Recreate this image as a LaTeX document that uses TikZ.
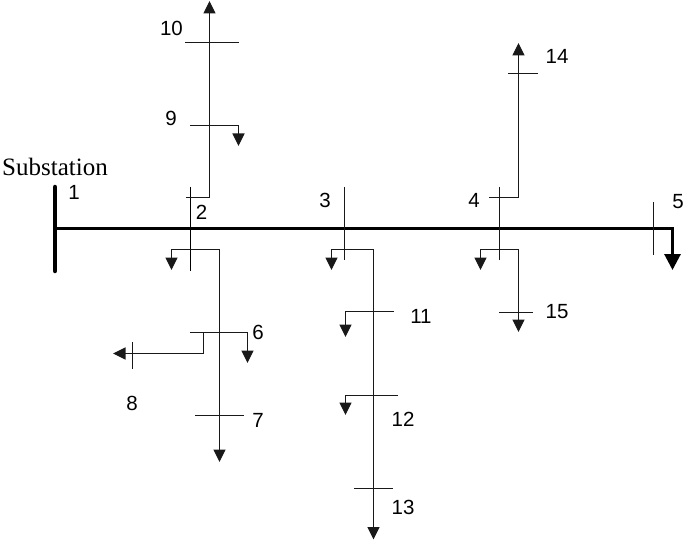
\documentclass[tikz,border=0pt]{standalone}
\usepackage{fontspec}
\setmainfont{Liberation Sans}
\newfontfamily\serifface{Liberation Serif}
\usetikzlibrary{arrows.meta}
\tikzset{
  busbar/.style={line width=1.1pt,black!90},
  feeder/.style={line width=1.2pt,black!90},
  tiparrow/.style={feeder,-{Triangle[length=12.5pt,width=12pt]}},
  mainline/.style={line width=3pt},
  mainarrow/.style={mainline,-{Triangle[length=16pt,width=16pt]}},
  busno/.style={inner sep=0pt,font=\fontsize{20.5}{20.5}\selectfont},
  sublabel/.style={inner sep=0pt,font=\serifface\fontsize{25}{25}\selectfont},
}
\begin{document}
\begin{tikzpicture}[x=1pt,y=-1pt]
\useasboundingbox (0,0) rectangle (685,540);
% --- labels
\node[sublabel] (lsub) at (55,167) {Substation};
\node[busno] (l1) at (74,192.5) {1};
\node[busno] (l2) at (201.5,212.5) {2};
\node[busno] (l3) at (325,200.5) {3};
\node[busno] (l4) at (474,200.5) {4};
\node[busno] (l5) at (678,201.5) {5};
\node[busno] (l6) at (258,332.5) {6};
\node[busno] (l7) at (258,420.5) {7};
\node[busno] (l8) at (132,403.5) {8};
\node[busno] (l9) at (171,118.5) {9};
\node[busno] (l10) at (171.5,28.5) {10};
\node[busno] (l11) at (421,316.5) {11};
\node[busno] (l12) at (403,419.5) {12};
\node[busno] (l13) at (403,507.5) {13};
\node[busno] (l14) at (557,56.5) {14};
\node[busno] (l15) at (557,311.5) {15};
% --- bus 1 and main feeder
\coordinate (b1a) at (55,187); \coordinate (b1b) at (55,271);
\coordinate (m0) at (55,228.5); \coordinate (m5) at (672.5,228.5); \coordinate (m5t) at (672.5,270);
\draw[line width=4.5pt,line cap=round] (b1a) -- (b1b);
\draw[mainarrow,line join=miter] (m0) -- (m5) -- (m5t);
% --- vertical buses on the main feeder
\coordinate (b2a) at (190.5,187); \coordinate (b2b) at (190.5,270.5);
\coordinate (b3a) at (344.5,187); \coordinate (b3b) at (344.5,260);
\coordinate (b4a) at (499.5,187); \coordinate (b4b) at (499.5,260);
\coordinate (b5a) at (653.5,202); \coordinate (b5b) at (653.5,255);
\draw[line width=1.6pt] (b2a) -- (b2b);
\draw[busbar] (b3a) -- (b3b);
\draw[busbar] (b4a) -- (b4b);
\draw[busbar] (b5a) -- (b5b);
% --- lateral 2-9-10
\coordinate (u2s) at (186,197.5); \coordinate (u2c) at (209.5,197.5); \coordinate (u2t) at (209.5,1);
\draw[tiparrow,line join=miter] (u2s) -- (u2c) -- (u2t);
\coordinate (b10a) at (185,42.5); \coordinate (b10b) at (239,42.5);
\draw[busbar] (b10a) -- (b10b);
\coordinate (b9a) at (190,125.5); \coordinate (b9c) at (238.5,125.5); \coordinate (b9t) at (238.5,146);
\draw[tiparrow] (b9a) -- (b9c) -- (b9t);
% --- lateral 2-6-7-8
\coordinate (d2c) at (219.5,249.5); \coordinate (d2l) at (171.5,249.5); \coordinate (d2lt) at (171.5,270);
\coordinate (d2t) at (219.5,462);
\draw[tiparrow] (d2c) -- (d2l) -- (d2lt);
\draw[tiparrow] (d2c) -- (d2t);
\coordinate (b6a) at (190,332.5); \coordinate (b6c) at (247.5,332.5); \coordinate (b6t) at (247.5,363);
\draw[tiparrow] (b6a) -- (b6c) -- (b6t);
\coordinate (b8s) at (203.5,332.5); \coordinate (b8c) at (203.5,353.5); \coordinate (b8t) at (113,353.5);
\draw[tiparrow] (b8s) -- (b8c) -- (b8t);
\coordinate (b8a) at (132.5,342); \coordinate (b8b) at (132.5,369);
\draw[busbar] (b8a) -- (b8b);
\coordinate (b7a) at (195,415.5); \coordinate (b7b) at (244,415.5);
\draw[busbar] (b7a) -- (b7b);
% --- lateral 3-11-12-13
\coordinate (d3c) at (373.5,249.5); \coordinate (d3l) at (331.5,249.5); \coordinate (d3lt) at (331.5,270);
\coordinate (d3t) at (373.5,539.5);
\draw[tiparrow] (d3c) -- (d3l) -- (d3lt);
\draw[tiparrow] (d3c) -- (d3t);
\coordinate (b11a) at (393.5,311.5); \coordinate (b11c) at (345.5,311.5); \coordinate (b11t) at (345.5,337);
\draw[tiparrow] (b11a) -- (b11c) -- (b11t);
\coordinate (b12a) at (398,395.5); \coordinate (b12c) at (345.5,395.5); \coordinate (b12t) at (345.5,415);
\draw[tiparrow] (b12a) -- (b12c) -- (b12t);
\coordinate (b13a) at (354,488.5); \coordinate (b13b) at (393,488.5);
\draw[busbar] (b13a) -- (b13b);
% --- lateral 4-14
\coordinate (u4s) at (489,197.5); \coordinate (u4c) at (518.5,197.5); \coordinate (u4t) at (518.5,43);
\draw[tiparrow,line join=miter] (u4s) -- (u4c) -- (u4t);
\coordinate (b14a) at (508,73.5); \coordinate (b14b) at (538,73.5);
\draw[busbar] (b14a) -- (b14b);
% --- lateral 4-15
\coordinate (d4c) at (518.5,249.5); \coordinate (d4l) at (480.5,249.5); \coordinate (d4lt) at (480.5,270);
\coordinate (d4t) at (518.5,332);
\draw[tiparrow] (d4c) -- (d4l) -- (d4lt);
\draw[tiparrow] (d4c) -- (d4t);
\coordinate (b15a) at (499,312.5); \coordinate (b15b) at (533,312.5);
\draw[busbar] (b15a) -- (b15b);
\end{tikzpicture}
\end{document}
